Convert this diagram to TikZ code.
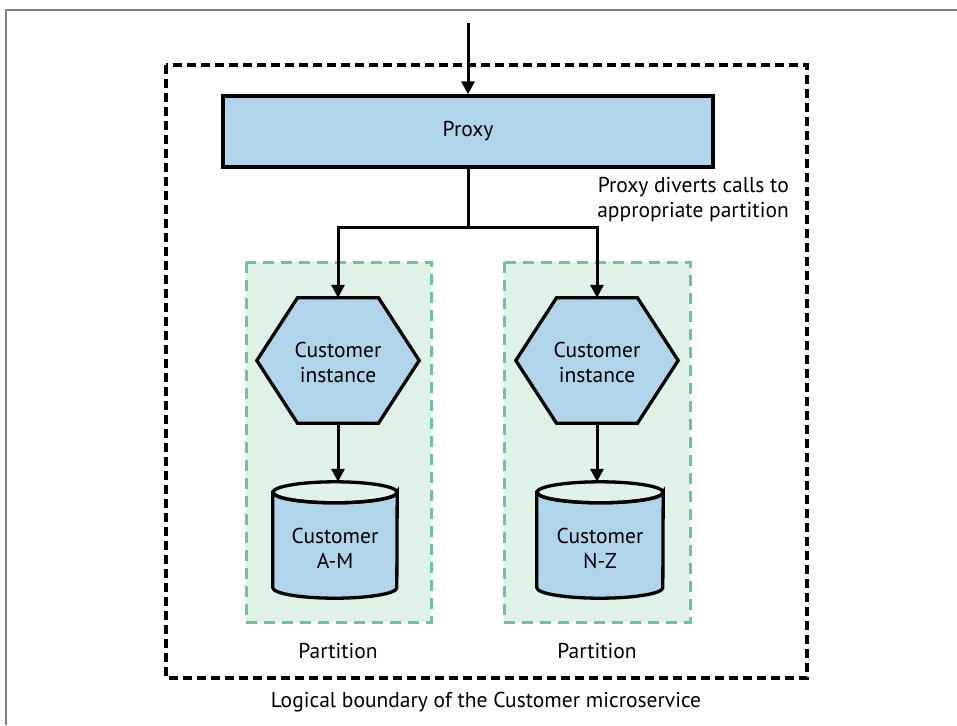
\documentclass[tikz,border=0pt]{standalone}
\usepackage{fontspec}
\setmainfont{PT Sans}
\usetikzlibrary{arrows.meta,calc}
\definecolor{boxblue}{HTML}{B0D4EA}
\definecolor{partfill}{HTML}{E0F1E8}
\definecolor{partline}{HTML}{6CC497}
\definecolor{framegray}{HTML}{808080}
\tikzset{
  lbl/.style={font=\fontsize{21.5}{25}\selectfont, inner sep=0pt, align=center},
  bluebox/.style={draw=black, line width=3.3pt, fill=boxblue},
  conn/.style={line width=3pt, -{Triangle[length=13pt,width=13pt]}},
  plainconn/.style={line width=3pt},
  boundary/.style={draw=black, line width=3.2pt, dash pattern=on 9pt off 5pt},
  partbox/.style={draw=partline, fill=partfill, line width=3pt, dash pattern=on 11pt off 7pt},
}
\begin{document}
\begin{tikzpicture}[x=1pt,y=-1pt]
\useasboundingbox (0,0) rectangle (957,725);
% page frame
\draw[framegray, line width=1.8pt] (6,725) -- (6,10) -- (960,10);
% logical boundary
\draw[boundary] (166,65) rectangle (807,678);
% partitions
\draw[partbox] (246,262) rectangle (431,622);
\draw[partbox] (504,262) rectangle (690,622);
% proxy
\node[bluebox, lbl, minimum width=490pt, minimum height=71pt] (proxy) at (468,131.5) {Proxy};
\coordinate (entry) at (468,23);
\coordinate (split) at (468,227);
% hexagons (holder nodes)
\node[inner sep=0pt, minimum width=162pt, minimum height=125pt] (hexA) at (338,360.5) {};
\node[inner sep=0pt, minimum width=162pt, minimum height=125pt] (hexB) at (597,360.5) {};
\foreach \h in {hexA,hexB}{
  \draw[bluebox] (\h.west) -- ($(\h.north)+(-40.5,0)$) -- ($(\h.north)+(40.5,0)$) -- (\h.east)
     -- ($(\h.south)+(40.5,0)$) -- ($(\h.south)+(-40.5,0)$) -- cycle;
}
\node[lbl] (hexAtxt) at (338,362) {Customer\\instance};
\node[lbl] (hexBtxt) at (597,362) {Customer\\instance};
% cylinders (holder nodes)
\node[inner sep=0pt, minimum width=124pt, minimum height=116pt] (cylA) at (335,540) {};
\node[inner sep=0pt, minimum width=126pt, minimum height=116pt] (cylB) at (600,540) {};
\foreach \c/\r in {cylA/62,cylB/63}{
  \draw[bluebox] ($(\c.north west)+(0,10.5)$) -- ($(\c.south west)+(0,-10.5)$)
     arc[start angle=180, end angle=0, x radius=\r, y radius=10.5]
     -- ($(\c.north east)+(0,10.5)$)
     arc[start angle=0, end angle=180, x radius=\r, y radius=10.5] -- cycle;
  \draw[black, line width=3.3pt] ($(\c.north)+(0,10.5)$) ellipse[x radius=\r, y radius=10.5];
}
\node[lbl] (cylAtxt) at (335,548) {Customer\\A-M};
\node[lbl] (cylBtxt) at (600,548) {Customer\\N-Z};
% connectors
\draw[conn] (entry) -- (proxy.north);
\draw[plainconn] (proxy.south) -- (split);
\draw[conn] (split) -| (hexA.north);
\draw[conn] (split) -| (hexB.north);
\draw[conn] (hexA.south) -- (hexA.south |- cylA.north);
\draw[conn] (hexB.south) -- (hexB.south |- cylB.north);
% labels
\node[lbl, align=right, anchor=east] (note) at (789,200) {Proxy diverts calls to\\appropriate partition};
\node[lbl] (partA) at (338,651) {Partition};
\node[lbl] (partB) at (597,651) {Partition};
\node[lbl] (bound) at (486,702) {Logical boundary of the Customer microservice};
\end{tikzpicture}
\end{document}
